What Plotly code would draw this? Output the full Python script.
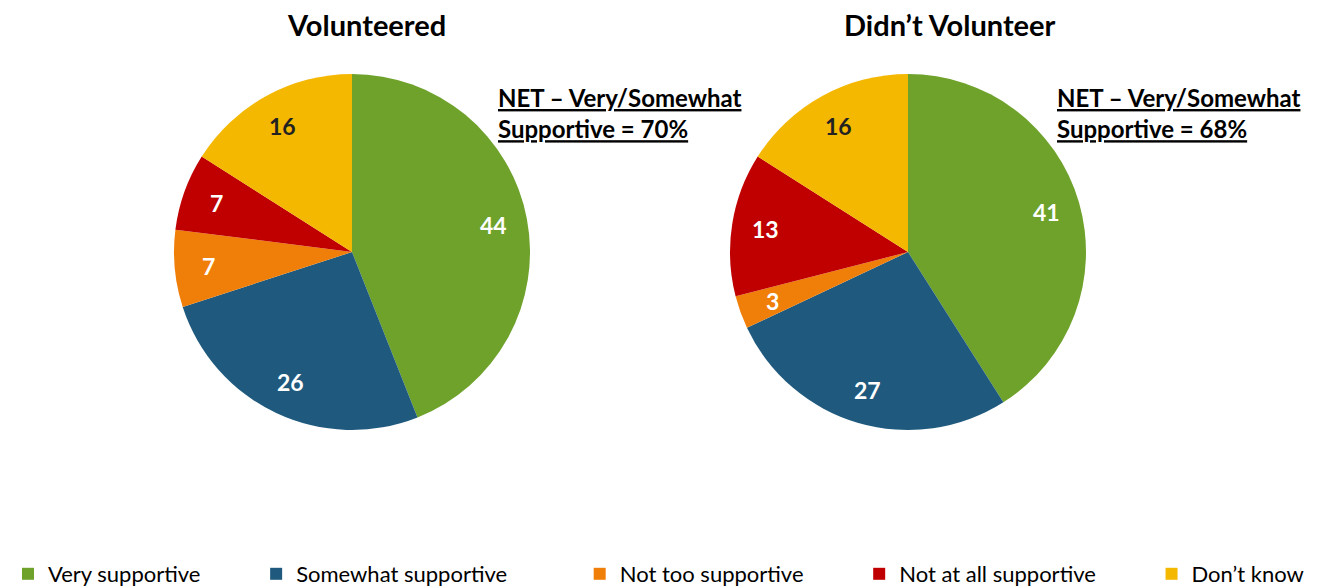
import math
import plotly.graph_objects as go

categories = ["Very supportive", "Somewhat supportive", "Not too supportive",
              "Not at all supportive", "Don\u2019t know"]
volunteered = [44, 26, 7, 7, 16]
didnt_volunteer = [41, 27, 3, 13, 16]
titles = ["Volunteered", "Didn\u2019t Volunteer"]
net_labels = ["NET \u2013 Very/Somewhat", "Supportive = 70%",
              "NET \u2013 Very/Somewhat", "Supportive = 68%"]

colors = ["#6EA22B", "#1F5A7E", "#F07F0A", "#C00000", "#F5B800"]
text_colors = ["white", "white", "white", "white", "#222222"]
legend_pad = [9, 12, 9, 9, 0]
FONT = "Lato"

# the page body adds an 8px margin around the figure
W, H = 1313, 580
R = 178
centers = [(344, 244), (900, 244)]

fig = go.Figure()
for i, (vals, (cx, cy)) in enumerate(zip([volunteered, didnt_volunteer], centers)):
    names = [c + "\u00a0" * p for c, p in zip(categories, legend_pad)]
    fig.add_trace(go.Pie(
        labels=names, values=vals, sort=False, direction="clockwise",
        rotation=0, marker=dict(colors=colors, line=dict(width=0)),
        textinfo="none",
        showlegend=(i == 0),
        domain=dict(x=[(cx - R) / W, (cx + R) / W],
                    y=[(H - cy - R) / H, (H - cy + R) / H]),
        hoverinfo="label+value",
    ))
    # value labels at 0.81 of the radius along each slice's mid-angle
    total = sum(vals)
    cum = 0
    for v, tc in zip(vals, text_colors):
        mid = (cum + v / 2) / total * 2 * math.pi
        cum += v
        r = 0.81 * R
        x = cx + r * math.sin(mid)
        y = cy - r * math.cos(mid)
        fig.add_annotation(text="<b>%d</b>" % v, x=x / W, y=1 - y / H,
                           xref="paper", yref="paper", showarrow=False,
                           xanchor="center", yanchor="middle",
                           font=dict(family=FONT, size=23, color=tc))

title_x = [358, 942]
for t, x in zip(titles, title_x):
    fig.add_annotation(text="<b>%s</b>" % t, x=x / W, y=1.0, xref="paper", yref="paper",
                       showarrow=False, xanchor="center", yanchor="top", yshift=3,
                       font=dict(family=FONT, size=29, color="#000"))

net_x = [488, 1047]
for k, x in enumerate(net_x):
    txt = "<u><b>%s</b></u><br><u><b>%s</b></u>" % (net_labels[2 * k], net_labels[2 * k + 1])
    fig.add_annotation(text=txt, x=x / W, y=1 - 105 / H, xref="paper", yref="paper",
                       showarrow=False, xanchor="left", yanchor="middle", align="left",
                       font=dict(family=FONT, size=24, color="#000"))

fig.update_layout(
    width=W, height=H, margin=dict(l=0, r=0, t=0, b=0, autoexpand=False),
    paper_bgcolor="white", plot_bgcolor="white",
    font=dict(family=FONT),
    legend=dict(orientation="h", x=0.0, y=1 - 566 / H, xanchor="left", yanchor="middle",
                font=dict(family=FONT, size=22, color="#000"),
                traceorder="normal"),
)

fig.write_html("out.html")
